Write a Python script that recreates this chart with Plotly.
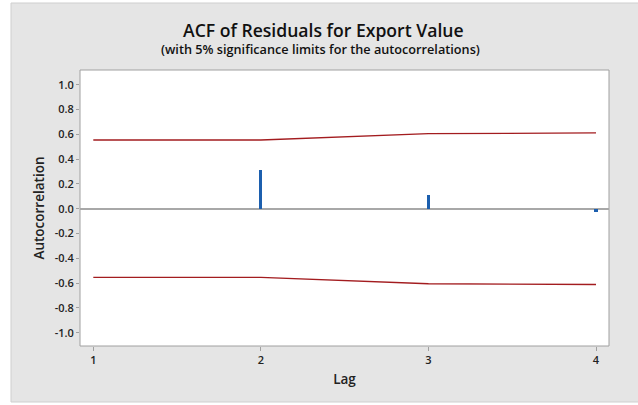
import plotly.graph_objects as go

lags = [1, 2, 3, 4]
acf = [0.0, 0.31, 0.11, -0.03]
upper_limit = [0.554, 0.554, 0.605, 0.611]
lower_limit = [-0.554, -0.554, -0.605, -0.611]
y_ticks = [-1.0, -0.8, -0.6, -0.4, -0.2, 0.0, 0.2, 0.4, 0.6, 0.8, 1.0]
y_tick_labels = ["-1.0", "-0.8", "-0.6", "-0.4", "-0.2", "0.0", "0.2", "0.4", "0.6", "0.8", "1.0"]
title_text = "ACF of Residuals for Export Value"
subtitle_text = "(with 5% significance limits for the autocorrelations)"

W, H = 638, 405
ML, MR, MT, MB = 80, 29, 70, 59
pw = W - ML - MR
ph = H - MT - MB

def px_x(p):
    return (p - ML) / pw

def px_y(p):
    return 1 - (p - MT) / ph

FONT = "Open Sans"

fig = go.Figure()
fig.add_trace(go.Bar(x=lags, y=acf, width=0.018, marker=dict(color="#1c5fae", line=dict(width=0)),
                     showlegend=False))
fig.add_trace(go.Scatter(x=lags, y=upper_limit, mode="lines",
                         line=dict(color="#a31c1f", width=1.3), showlegend=False))
fig.add_trace(go.Scatter(x=lags, y=lower_limit, mode="lines",
                         line=dict(color="#a31c1f", width=1.3), showlegend=False))

shapes = [
    dict(type="rect", xref="paper", yref="paper", layer="below",
         x0=px_x(11), x1=px_x(640), y0=px_y(402), y1=px_y(3),
         fillcolor="#e5e5e5", line=dict(color="#cfcfcf", width=1)),
    dict(type="rect", xref="paper", yref="paper", layer="below",
         x0=0, x1=1, y0=0, y1=1, fillcolor="white", line=dict(color="#a0a0a0", width=1)),
]

annotations = [
    dict(text=title_text, xref="paper", yref="paper", x=px_x(323), y=px_y(30),
         xanchor="center", yanchor="middle", showarrow=False,
         font=dict(family=FONT, size=17.6, color="#111111", weight=600)),
    dict(text=subtitle_text, xref="paper", yref="paper", x=px_x(320), y=px_y(49),
         xanchor="center", yanchor="middle", showarrow=False,
         font=dict(family=FONT, size=12.7, color="#111111", weight=600)),
]

fig.update_layout(
    width=W, height=H,
    margin=dict(l=ML, r=MR, t=MT, b=MB, autoexpand=False),
    paper_bgcolor="white", plot_bgcolor="rgba(0,0,0,0)",
    shapes=shapes, annotations=annotations,
    font=dict(family=FONT, color="#222222"),
    xaxis=dict(range=[0.9206, 4.0776], tickvals=lags, ticktext=[str(l) for l in lags],
               showgrid=False, zeroline=False, showline=False, automargin=False,
               ticks="outside", ticklen=4, tickcolor="#a0a0a0", tickwidth=1,
               tickfont=dict(size=11, family=FONT, color="#222222", weight=600),
               title=dict(text="Lag", font=dict(size=13.5, family=FONT, weight=600), standoff=8)),
    yaxis=dict(range=[-1.107, 1.1185], tickvals=y_ticks, ticktext=y_tick_labels,
               showgrid=False, zeroline=True, zerolinecolor="#a8a8a8", zerolinewidth=1.5,
               showline=False, automargin=False,
               ticks="outside", ticklen=3, tickcolor="#a0a0a0", tickwidth=1,
               tickfont=dict(size=11, family=FONT, color="#222222", weight=600),
               title=dict(text="Autocorrelation", font=dict(size=13.5, family=FONT, weight=600), standoff=6)),
    bargap=0,
)

fig.write_html("out.html", config={"displayModeBar": False},
               post_script="document.body.style.margin='0px';")
